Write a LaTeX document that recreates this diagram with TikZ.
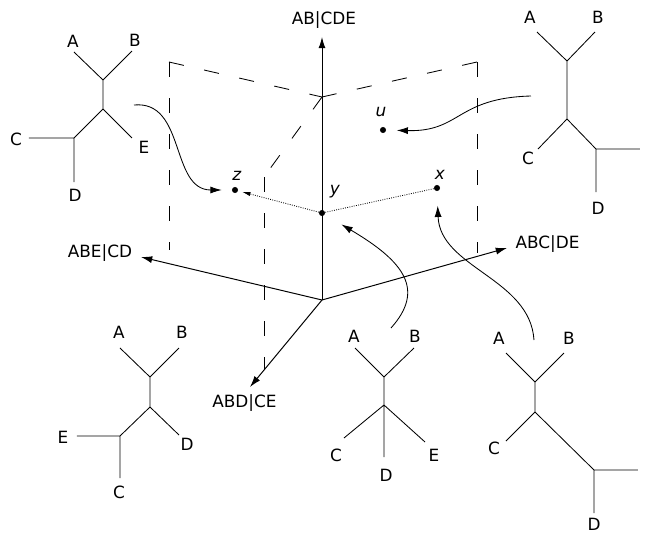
\documentclass[tikz,border=0pt]{standalone}
\usepackage{fontspec}
\setmainfont{DejaVu Sans}
\usetikzlibrary{arrows.meta}
\tikzstyle{axis}=[-{Latex[length=8pt,width=5pt]},line width=0.7pt]
\tikzstyle{orientedarc}=[-{Latex[length=8pt,width=5pt]},line width=0.6pt]
\tikzstyle{dottedarc}=[-{Latex[length=6pt,width=3pt]},densely dotted,line width=0.6pt]
\tikzstyle{dottedline}=[densely dotted,line width=0.6pt]
\tikzstyle{frame}=[dash pattern=on 0.38cm off 0.52cm,line width=0.6pt]
\tikzstyle{branch}=[line width=0.6pt]
\tikzstyle{point}=[circle,fill,inner sep=0pt,minimum size=4.3pt]
\tikzstyle{splitlabel}=[inner sep=0pt]
\tikzstyle{leaflabel}=[inner sep=0pt]

\begin{document}
\begin{tikzpicture}[font=\fontsize{12}{14}\selectfont]
\useasboundingbox (-8.05cm,-5.875cm) rectangle (8.075cm,7.45cm);

\coordinate (F1) at (-3.825cm,1.2cm);
\coordinate (F2) at (-3.825cm,5.9cm);
\coordinate (F3) at (0cm,5.025cm);
\coordinate (F4) at (3.875cm,5.9cm);
\coordinate (F5) at (3.875cm,1.125cm);
\coordinate (F6) at (-1.45cm,3.025cm);
\coordinate (F7) at (-1.45cm,-1.8cm);

\draw[frame] (F2) -- (F1);
\draw[frame] (F2) -- (F3);
\draw[frame] (F4) -- (F3);
\draw[frame] (F4) -- (F5);
\draw[frame] (F3) -- (F6);
\draw[frame] (F6) -- (F7);

\coordinate (O) at (0cm,-0.05cm);
\node[splitlabel] (S1) at (0.05cm,6.95cm) {AB|CDE};
\node[splitlabel] (S2) at (-5.55cm,1.125cm) {ABE|CD};
\node[splitlabel] (S3) at (5.64cm,1.35cm) {ABC|DE};
\node[splitlabel] (S4) at (-1.94cm,-2.625cm) {ABD|CE};
\coordinate (S1T) at (0cm,6.525cm);
\coordinate (S2T) at (-4.525cm,1.025cm);
\coordinate (S3T) at (4.625cm,1.25cm);
\coordinate (S4T) at (-1.8cm,-2.225cm);

\draw[axis] (O) -- (S1T);
\draw[axis] (O) -- (S2T);
\draw[axis] (O) -- (S3T);
\draw[axis] (O) -- (S4T);

\node[point] (PY) at (0cm,2.125cm) {};
\node[point] (PZ) at (-2.175cm,2.7cm) {};
\node[point] (PX) at (2.875cm,2.75cm) {};
\node[point] (PU) at (1.525cm,4.2cm) {};
\node (LY) at (0.325cm,2.65cm) {\textit{y}};
\node (LZ) at (-2.125cm,3.05cm) {\textit{z}};
\node (LX) at (2.95cm,3.075cm) {\textit{x}};
\node (LU) at (1.475cm,4.65cm) {\textit{u}};

\draw[dottedarc,shorten >=0.1cm] (PY) -- (PZ);
\draw[dottedline] (PY) -- (PX);

\coordinate (C1S) at (-4.7cm,4.825cm);
\coordinate (C2S) at (5.225cm,5.05cm);
\coordinate (C3S) at (1.725cm,-0.75cm);
\coordinate (C4S) at (5.3cm,-1.05cm);

\draw[orientedarc,shorten >=0.25cm] (C1S) .. controls (-3.4cm,4.95cm) and (-3.8cm,2.7cm) .. (PZ);
\draw[orientedarc,shorten >=0.26cm] (C2S) .. controls (3.35cm,5cm) and (3.475cm,4.15cm) .. (PU);
\draw[orientedarc,shorten >=0.48cm] (C3S) .. controls (2.575cm,0.2cm) and (2.075cm,0.9cm) .. (PY);
\draw[orientedarc,shorten >=0.36cm] (C4S) .. controls (5.2cm,0.5cm) and (2.95cm,0.75cm) .. (PX);

\coordinate (T1J1) at (-5.475cm,5.45cm);
\coordinate (T1J2) at (-5.475cm,4.725cm);
\coordinate (T1J3) at (-6.2cm,4cm);
\coordinate (T1A) at (-6.2cm,6.15cm);
\coordinate (T1B) at (-4.75cm,6.175cm);
\coordinate (T1E) at (-4.75cm,4cm);
\coordinate (T1C) at (-7.325cm,4cm);
\coordinate (T1D) at (-6.2cm,2.9cm);
\node[leaflabel] (T1LA) at (-6.225cm,6.425cm) {A};
\node[leaflabel] (T1LB) at (-4.675cm,6.45cm) {B};
\node[leaflabel] (T1LE) at (-4.45cm,3.775cm) {E};
\node[leaflabel] (T1LC) at (-7.65cm,3.975cm) {C};
\node[leaflabel] (T1LD) at (-6.175cm,2.575cm) {D};
\draw[branch] (T1A) -- (T1J1) -- (T1B) (T1J1) -- (T1J2) -- (T1E) (T1J2) -- (T1J3) -- (T1C) (T1J3) -- (T1D);

\coordinate (T2J1) at (6.125cm,5.925cm);
\coordinate (T2J2) at (6.125cm,4.475cm);
\coordinate (T2J3) at (6.85cm,3.725cm);
\coordinate (T2A) at (5.375cm,6.65cm);
\coordinate (T2B) at (6.825cm,6.65cm);
\coordinate (T2C) at (5.4cm,3.725cm);
\coordinate (T2E) at (7.95cm,3.725cm);
\coordinate (T2D) at (6.85cm,2.65cm);
\node[leaflabel] (T2LA) at (5.2cm,7.025cm) {A};
\node[leaflabel] (T2LB) at (6.9cm,7.025cm) {B};
\node[leaflabel] (T2LC) at (5.15cm,3.5cm) {C};
\node[leaflabel] (T2LD) at (6.9cm,2.25cm) {D};
\draw[branch] (T2A) -- (T2J1) -- (T2B) (T2J1) -- (T2J2) -- (T2C) (T2J2) -- (T2J3) -- (T2E) (T2J3) -- (T2D);

\coordinate (T3J1) at (-4.3cm,-1.975cm);
\coordinate (T3J2) at (-4.3cm,-2.725cm);
\coordinate (T3J3) at (-5.05cm,-3.45cm);
\coordinate (T3A) at (-5.05cm,-1.25cm);
\coordinate (T3B) at (-3.575cm,-1.25cm);
\coordinate (T3D) at (-3.575cm,-3.425cm);
\coordinate (T3E) at (-6.125cm,-3.45cm);
\coordinate (T3C) at (-5.05cm,-4.5cm);
\node[leaflabel] (T3LA) at (-5.075cm,-0.85cm) {A};
\node[leaflabel] (T3LB) at (-3.5cm,-0.85cm) {B};
\node[leaflabel] (T3LD) at (-3.375cm,-3.65cm) {D};
\node[leaflabel] (T3LE) at (-6.475cm,-3.475cm) {E};
\node[leaflabel] (T3LC) at (-5.075cm,-4.85cm) {C};
\draw[branch] (T3A) -- (T3J1) -- (T3B) (T3J1) -- (T3J2) -- (T3D) (T3J2) -- (T3J3) -- (T3E) (T3J3) -- (T3C);

\coordinate (T4J1) at (1.55cm,-1.975cm);
\coordinate (T4J2) at (1.55cm,-2.675cm);
\coordinate (T4A) at (0.825cm,-1.25cm);
\coordinate (T4B) at (2.3cm,-1.25cm);
\coordinate (T4C) at (0.55cm,-3.5cm);
\coordinate (T4D) at (1.55cm,-3.975cm);
\coordinate (T4E) at (2.575cm,-3.6cm);
\node[leaflabel] (T4LA) at (0.8cm,-0.95cm) {A};
\node[leaflabel] (T4LB) at (2.325cm,-0.95cm) {B};
\node[leaflabel] (T4LC) at (0.35cm,-3.925cm) {C};
\node[leaflabel] (T4LD) at (1.6cm,-4.425cm) {D};
\node[leaflabel] (T4LE) at (2.8cm,-3.925cm) {E};
\draw[branch] (T4A) -- (T4J1) -- (T4B) (T4J1) -- (T4J2) -- (T4C) (T4J2) -- (T4D) (T4J2) -- (T4E);

\coordinate (T5J1) at (5.325cm,-2.1cm);
\coordinate (T5J2) at (5.325cm,-2.85cm);
\coordinate (T5J3) at (6.8cm,-4.3cm);
\coordinate (T5A) at (4.6cm,-1.375cm);
\coordinate (T5B) at (6.05cm,-1.375cm);
\coordinate (T5C) at (4.6cm,-3.575cm);
\coordinate (T5E) at (7.9cm,-4.3cm);
\coordinate (T5D) at (6.8cm,-5.375cm);
\node[leaflabel] (T5LA) at (4.425cm,-1cm) {A};
\node[leaflabel] (T5LB) at (6.175cm,-1cm) {B};
\node[leaflabel] (T5LC) at (4.3cm,-3.75cm) {C};
\node[leaflabel] (T5LD) at (6.8cm,-5.66cm) {D};
\draw[branch] (T5A) -- (T5J1) -- (T5B) (T5J1) -- (T5J2) -- (T5C) (T5J2) -- (T5J3) -- (T5E) (T5J3) -- (T5D);

\end{tikzpicture}
\end{document}
